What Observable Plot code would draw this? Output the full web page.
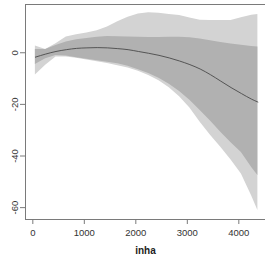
<!DOCTYPE html>
<html>
<head>
<meta charset="utf-8">
<script src="https://cdn.jsdelivr.net/npm/d3@7"></script>
<script src="https://cdn.jsdelivr.net/npm/@observablehq/plot@0.6"></script>
<style>
  html, body { margin: 0; padding: 0; background: #fff; }
  svg { display: block; }
</style>
</head>
<body>
<div id="chart"></div>
<script>
// x positions (inha)
const xs       = [50, 250, 450, 650, 850, 1050, 1250, 1450, 1650, 1850, 2050, 2250, 2450, 2650, 2850, 3050, 3250, 3450, 3650, 3850, 4050, 4250, 4370];
// fitted line
const fit      = [-1.7, -0.5, 0.5, 1.2, 1.7, 1.9, 2.0, 1.9, 1.6, 1.2, 0.5, -0.2, -1.0, -2.0, -3.2, -4.6, -6.3, -8.5, -11.0, -13.5, -15.8, -18.0, -19.1];
// inner band
const innerLo  = [-4.5, -2.3, -1.1, -1.3, -1.9, -2.5, -3.1, -3.7, -4.3, -5.2, -6.6, -8.0, -9.9, -12.2, -15.0, -18.4, -22.4, -26.4, -30.8, -34.9, -38.6, -44.5, -47.6];
const innerHi  = [1.3, 1.3, 2.8, 4.2, 5.0, 5.5, 6.0, 6.3, 6.2, 6.1, 6.0, 5.9, 5.9, 6.0, 6.0, 5.8, 5.3, 4.7, 4.0, 3.4, 2.9, 2.4, 2.2];
// outer band
const outerLo  = [-8.6, -4.8, -1.6, -1.6, -2.1, -2.8, -3.5, -4.2, -5.0, -5.9, -7.2, -8.8, -10.8, -13.6, -17.0, -21.4, -26.9, -32.0, -36.6, -41.5, -47.0, -55.5, -61.1];
const outerHi  = [2.6, 1.3, 3.5, 6.1, 7.0, 7.7, 8.5, 10.0, 12.0, 13.8, 15.0, 15.5, 15.3, 14.8, 14.4, 13.5, 12.6, 12.5, 12.5, 12.5, 13.6, 14.5, 14.8];

const xTicks = [0, 1000, 2000, 3000, 4000];
const yTicks = [0, -20, -40, -60];
const xDomain = [-142, 4518];
const yDomain = [-64.6, 18.7];
const xLabel = "inha";

const rows = xs.map((x, i) => ({
  x, fit: fit[i],
  innerLo: innerLo[i], innerHi: innerHi[i],
  outerLo: outerLo[i], outerHi: outerHi[i]
}));

const font = "Liberation Sans, Arial, Helvetica, sans-serif";
const axisColor = "#7a7a7a";

const chart = Plot.plot({
  width: 265,
  height: 262,
  marginLeft: 25,
  marginRight: 0,
  marginTop: 4,
  marginBottom: 43,
  style: { fontFamily: font, fontSize: "9.5px", color: "#333", background: "#fff" },
  x: { domain: xDomain, axis: null },
  y: { domain: yDomain, axis: null },
  marks: [
    Plot.areaY(rows, { x: "x", y1: "outerLo", y2: "outerHi", fill: "#d3d3d3", curve: "linear" }),
    Plot.areaY(rows, { x: "x", y1: "innerLo", y2: "innerHi", fill: "#b1b1b1", curve: "linear" }),
    Plot.line(rows, { x: "x", y: "fit", stroke: "#4a4a4a", strokeWidth: 0.9, curve: "monotone-x" }),
    // box (left, top, bottom)
    Plot.ruleX([xDomain[0]], { stroke: axisColor, strokeWidth: 1 }),
    Plot.ruleY([yDomain[0], yDomain[1]], { stroke: axisColor, strokeWidth: 1 }),
    // x axis ticks and labels
    Plot.axisX({ ticks: xTicks, tickSize: 5, tickFormat: () => "", label: null, stroke: axisColor }),
    Plot.text(xTicks, { x: d => d, frameAnchor: "bottom", dy: 13, lineAnchor: "middle", text: d => String(d), fill: "#333", fontSize: 9.5 }),
    Plot.text([xLabel], { frameAnchor: "bottom", dy: 31, lineAnchor: "middle", text: d => d, fontWeight: "bold", fontSize: 10, fill: "#222" }),
    // y axis ticks and labels
    Plot.axisY({ ticks: yTicks, tickSize: 5, tickFormat: () => "", label: null, stroke: axisColor }),
    Plot.text(yTicks, { y: d => d, frameAnchor: "left", dx: -11, rotate: -90, textAnchor: "middle", lineAnchor: "middle", text: d => String(d), fill: "#333", fontSize: 9.5 })
  ]
});

document.getElementById("chart").appendChild(chart);
</script>
</body>
</html>
